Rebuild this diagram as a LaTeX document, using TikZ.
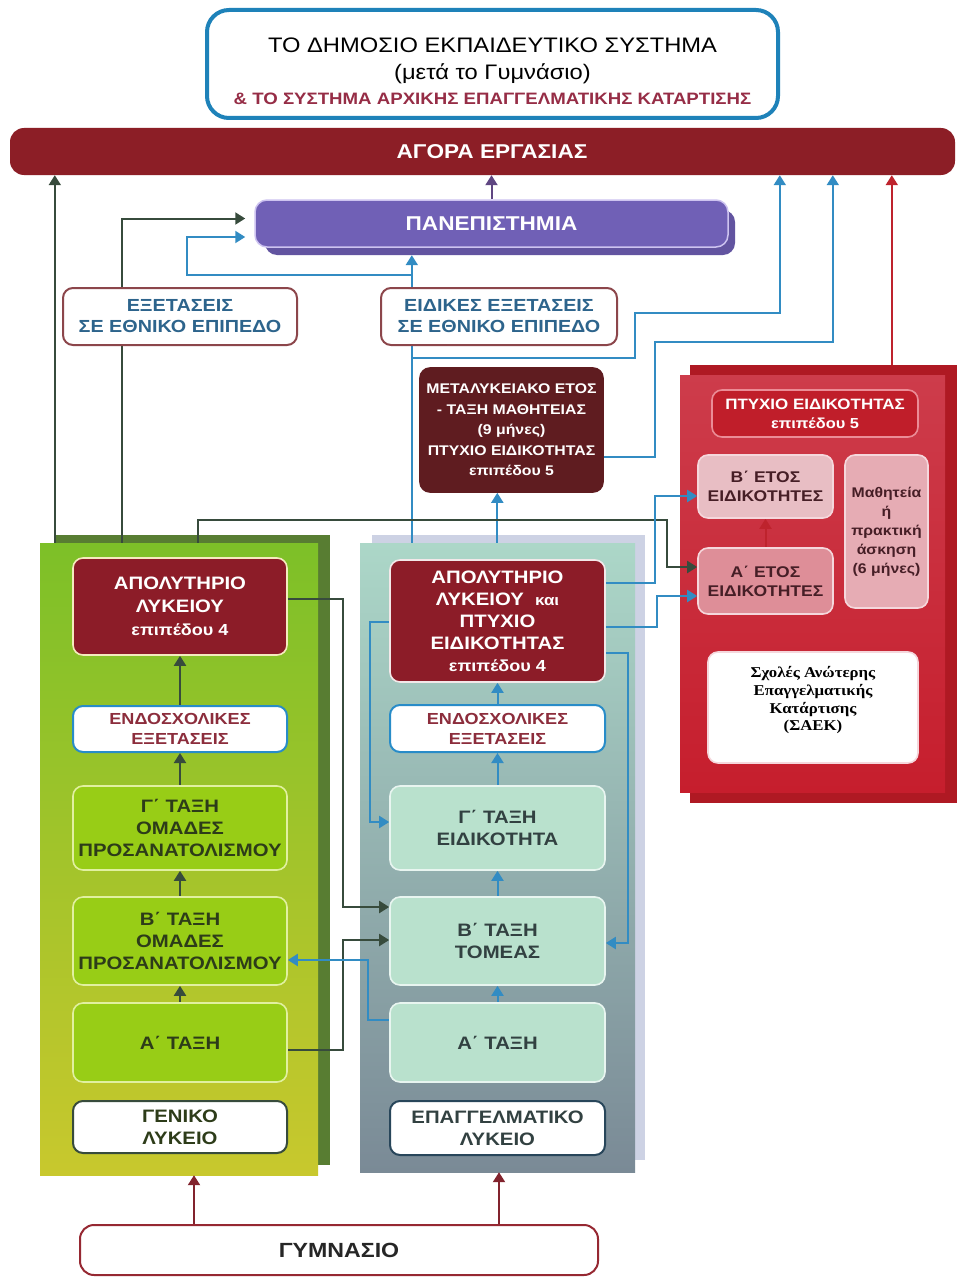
\documentclass[tikz,border=0pt]{standalone}
\usepackage{fontspec}
\setmainfont{Liberation Sans}[FakeStretch=1.13]
\newfontfamily\saekfont{Liberation Serif}[FakeStretch=1.12]
\usetikzlibrary{arrows.meta}
\pgfdeclarelayer{back}
\pgfdeclarelayer{mid}
\pgfsetlayers{back,mid,main}
\newcommand\fsz[2]{\fontsize{#1}{#2}\selectfont}
\definecolor{ctitleb}{RGB}{30,130,185}
\definecolor{ctitle3}{RGB}{150,45,70}
\definecolor{cmarket}{RGB}{140,30,38}
\definecolor{cuni}{RGB}{112,96,182}
\definecolor{cunib}{RGB}{205,195,240}
\definecolor{cunish}{RGB}{98,84,160}
\definecolor{cexamb}{RGB}{140,70,75}
\definecolor{cexamt}{RGB}{45,100,140}
\definecolor{cmeta}{RGB}{95,28,32}
\definecolor{capol}{RGB}{140,28,40}
\definecolor{ccream}{RGB}{245,235,190}
\definecolor{cendob}{RGB}{40,140,200}
\definecolor{cendot}{RGB}{140,45,60}
\definecolor{cgbox}{RGB}{152,205,22}
\definecolor{cgboxb}{RGB}{225,240,160}
\definecolor{cgtext}{RGB}{45,60,25}
\definecolor{cgtop}{RGB}{125,192,40}
\definecolor{cgbot}{RGB}{200,200,45}
\definecolor{cgsh}{RGB}{88,125,50}
\definecolor{cetop}{RGB}{172,215,200}
\definecolor{cebot}{RGB}{122,138,150}
\definecolor{cesh}{RGB}{205,210,228}
\definecolor{cebox}{RGB}{185,225,205}
\definecolor{ceboxb}{RGB}{232,245,240}
\definecolor{cetext}{RGB}{50,65,65}
\definecolor{cepalb}{RGB}{40,70,90}
\definecolor{cstop}{RGB}{205,60,75}
\definecolor{csmid}{RGB}{236,190,196}
\definecolor{csbot}{RGB}{198,30,45}
\definecolor{csback}{RGB}{175,25,35}
\definecolor{cp5}{RGB}{192,30,42}
\definecolor{cp5b}{RGB}{235,140,150}
\definecolor{cbet}{RGB}{232,190,196}
\definecolor{caet}{RGB}{222,142,152}
\definecolor{cmath}{RGB}{230,172,180}
\definecolor{cpinkb}{RGB}{245,215,220}
\definecolor{cstext}{RGB}{70,30,38}
\definecolor{cdark}{RGB}{55,75,60}
\definecolor{cblue}{RGB}{50,140,195}
\definecolor{cpurple}{RGB}{95,70,130}
\definecolor{cred}{RGB}{190,35,45}
\definecolor{credk}{RGB}{130,35,45}
\definecolor{cgymb}{RGB}{150,40,50}
\begin{document}
\begin{tikzpicture}[x=1pt,y=-1pt,
  >={Triangle[width=12pt,length=10pt]},
  box/.style={rounded corners=10pt, line width=1.6pt, inner sep=0pt, align=center},
  gbox/.style={box, fill=cgbox, draw=cgboxb, text=cgtext, minimum width=214pt, font=\bfseries\fsz{18}{22}},
  ebox/.style={box, fill=cebox, draw=ceboxb, text=cetext, minimum width=215pt, font=\bfseries\fsz{18}{22}},
  apolbox/.style={box, fill=capol, draw=ccream, text=white, font=\bfseries\fsz{18}{23}},
  endobox/.style={box, fill=white, draw=cendob, line width=2pt, text=cendot, font=\bfseries\fsz{16}{20}},
  exambox/.style={box, fill=white, draw=cexamb, line width=2pt, text=cexamt, minimum height=57pt, font=\bfseries\fsz{17.5}{21}},
  conn/.style={line width=2pt, ->},
  dk/.style={conn, draw=cdark},
  bl/.style={conn, draw=cblue},
  pu/.style={conn, draw=cpurple},
  rd/.style={conn, draw=cred},
  rdk/.style={conn, draw=credk},
]
\useasboundingbox (0,0) rectangle (959,1279);
\begin{pgfonlayer}{back}
\fill[white] (0,0) rectangle (959,1279);
\fill[cgsh] (55,535) rectangle (330,1165);
\node[inner sep=0pt, minimum width=278pt, minimum height=632pt, top color=cgtop, bottom color=cgbot] (gpanel) at (179,859) {};
\fill[cesh] (372,535) rectangle (645,1160);
\node[inner sep=0pt, minimum width=275pt, minimum height=629pt, top color=cetop, bottom color=cebot] (epanel) at (497.5,857.5) {};
\node[inner sep=0pt, fill=csback, minimum width=267pt, minimum height=438pt] (sback) at (823.5,584) {};
\node[inner sep=0pt, minimum width=265pt, minimum height=417pt, top color=cstop, middle color=csmid, bottom color=csbot] (spanel) at (812.5,583.5) {};
\end{pgfonlayer}

% title and top
\node[draw=ctitleb, line width=4pt, rounded corners=22pt, minimum width=571pt, minimum height=108pt, fill=white] (title) at (492.5,64) {};
\node[align=center, inner sep=0pt, font=\fsz{21}{27}] (titletext) at (492.5,71) {ΤΟ ΔΗΜΟΣΙΟ ΕΚΠΑΙΔΕΥΤΙΚΟ ΣΥΣΤΗΜΑ\\(μετά το Γυμνάσιο)\\[-2pt]{\color{ctitle3}\bfseries\fsz{16.5}{20}\& ΤΟ ΣΥΣΤΗΜΑ ΑΡΧΙΚΗΣ ΕΠΑΓΓΕΛΜΑΤΙΚΗΣ ΚΑΤΑΡΤΙΣΗΣ}};
\node[fill=cmarket, rounded corners=14pt, minimum width=945pt, minimum height=47pt, inner sep=0pt, text=white, font=\bfseries\fsz{20}{22}] (market) at (482.5,151.5) {\hspace*{19pt}ΑΓΟΡΑ ΕΡΓΑΣΙΑΣ};
\node[fill=cunish, rounded corners=12pt, minimum width=470pt, minimum height=45pt, inner sep=0pt] (unishadow) at (500,232.5) {};
\node[fill=cuni, draw=cunib, line width=1.5pt, rounded corners=12pt, minimum width=473pt, minimum height=47pt, inner sep=0pt, text=white, font=\bfseries\fsz{20}{22}] (uni) at (491.5,223.5) {ΠΑΝΕΠΙΣΤΗΜΙΑ};
\node[exambox, minimum width=234pt] (exam1) at (180,316.5) {ΕΞΕΤΑΣΕΙΣ\\ΣΕ ΕΘΝΙΚΟ ΕΠΙΠΕΔΟ};
\node[exambox, minimum width=236pt] (exam2) at (499,316.5) {ΕΙΔΙΚΕΣ ΕΞΕΤΑΣΕΙΣ\\ΣΕ ΕΘΝΙΚΟ ΕΠΙΠΕΔΟ};
\node[box, fill=cmeta, draw=cmeta, text=white, minimum width=183pt, minimum height=124pt, font=\bfseries\fsz{14}{20.5}] (meta) at (511.5,430) {ΜΕΤΑΛΥΚΕΙΑΚΟ ΕΤΟΣ\\- ΤΑΞΗ ΜΑΘΗΤΕΙΑΣ\\(9 μήνες)\\ΠΤΥΧΙΟ ΕΙΔΙΚΟΤΗΤΑΣ\\επιπέδου 5};

% general lyceum
\node[apolbox, minimum width=214pt, minimum height=97pt] (gapol) at (180,606.5) {ΑΠΟΛΥΤΗΡΙΟ\\ΛΥΚΕΙΟΥ\\{\fsz{16}{23}επιπέδου 4}};
\node[endobox, minimum width=214pt, minimum height=46pt] (gendo) at (180,729) {ΕΝΔΟΣΧΟΛΙΚΕΣ\\ΕΞΕΤΑΣΕΙΣ};
\node[gbox, minimum height=84pt] (gc) at (180,828) {Γ΄ ΤΑΞΗ\\ΟΜΑΔΕΣ\\ΠΡΟΣΑΝΑΤΟΛΙΣΜΟΥ};
\node[gbox, minimum height=88pt] (gb) at (180,941) {Β΄ ΤΑΞΗ\\ΟΜΑΔΕΣ\\ΠΡΟΣΑΝΑΤΟΛΙΣΜΟΥ};
\node[gbox, minimum height=79pt] (ga) at (180,1042.5) {Α΄ ΤΑΞΗ};
\node[box, fill=white, draw=cdark, line width=2pt, text=cgtext, minimum width=214pt, minimum height=52pt, font=\bfseries\fsz{18}{22}] (gel) at (180,1127) {ΓΕΝΙΚΟ\\ΛΥΚΕΙΟ};

% vocational lyceum
\node[apolbox, draw=white!90!capol, minimum width=215pt, minimum height=122pt, font=\bfseries\fsz{18}{22}] (eapol) at (497.5,621) {ΑΠΟΛΥΤΗΡΙΟ\\ΛΥΚΕΙΟΥ \ {\fsz{15}{22}και}\\ΠΤΥΧΙΟ\\ΕΙΔΙΚΟΤΗΤΑΣ\\{\fsz{16}{22}επιπέδου 4}};
\node[endobox, minimum width=215pt, minimum height=47pt] (eendo) at (497.5,728.5) {ΕΝΔΟΣΧΟΛΙΚΕΣ\\ΕΞΕΤΑΣΕΙΣ};
\node[ebox, minimum height=84pt] (ec) at (497.5,828) {Γ΄ ΤΑΞΗ\\ΕΙΔΙΚΟΤΗΤΑ};
\node[ebox, minimum height=88pt] (eb) at (497.5,941) {Β΄ ΤΑΞΗ\\ΤΟΜΕΑΣ};
\node[ebox, minimum height=79pt] (ea) at (497.5,1042.5) {Α΄ ΤΑΞΗ};
\node[box, fill=white, draw=cepalb, line width=2pt, text=cetext, minimum width=215pt, minimum height=54pt, font=\bfseries\fsz{18}{22}] (epal) at (497.5,1128) {ΕΠΑΓΓΕΛΜΑΤΙΚΟ\\ΛΥΚΕΙΟ};

% SAEK
\node[box, fill=cp5, draw=cp5b, text=white, minimum width=206pt, minimum height=47pt, font=\bfseries\fsz{15}{19}] (p5) at (815,413.5) {ΠΤΥΧΙΟ ΕΙΔΙΚΟΤΗΤΑΣ\\{\fsz{14.5}{19}επιπέδου 5}};
\node[box, fill=cbet, draw=cpinkb, text=cstext, minimum width=135pt, minimum height=63pt, font=\bfseries\fsz{15.5}{19}] (bet) at (765.5,486.5) {Β΄ ΕΤΟΣ\\ΕΙΔΙΚΟΤΗΤΕΣ};
\node[box, fill=caet, draw=cpinkb, text=cstext, minimum width=135pt, minimum height=66pt, font=\bfseries\fsz{15.5}{19}] (aet) at (765.5,581) {Α΄ ΕΤΟΣ\\ΕΙΔΙΚΟΤΗΤΕΣ};
\node[box, fill=cmath, draw=cpinkb, text=cstext, minimum width=83pt, minimum height=153pt, font=\bfseries\fsz{14}{19}] (math) at (886.5,531.5) {Μαθητεία\\ή\\πρακτική\\άσκηση\\(6 μήνες)};
\node[box, fill=white, draw=cpinkb, text=black, minimum width=210pt, minimum height=111pt, font=\saekfont\bfseries\fsz{15}{17.8}] (saek) at (813,707.5) {Σχολές Ανώτερης\\Επαγγελματικής\\Κατάρτισης\\(ΣΑΕΚ)\\\mbox{}};

% gymnasio
\node[box, fill=white, draw=cgymb, line width=2pt, rounded corners=14pt, minimum width=518pt, minimum height=50pt, text=black!85, font=\bfseries\fsz{20.5}{22}] (gym) at (339,1250) {ΓΥΜΝΑΣΙΟ};

\begin{pgfonlayer}{mid}
\coordinate (g1) at ([xshift=15pt]gpanel.north west);
\coordinate (g2) at ([xshift=82pt]gpanel.north west);
\coordinate (g3) at ([xshift=158pt]gpanel.north west);
\coordinate (e1) at ([xshift=52pt]epanel.north west);
\coordinate (e2) at ([xshift=137.5pt]epanel.north west);
\coordinate (s1) at ([xshift=202pt]sback.north west);
\coordinate (mk1) at ([xshift=770pt]market.south west);
\coordinate (mk2) at ([xshift=823pt]market.south west);
\coordinate (gy1) at ([xshift=115pt]gym.north west);
\coordinate (gy2) at ([xshift=420pt]gym.north west);
% to labour market
\draw[dk] (g1) -- (g1 |- market.south);
\draw[pu] (uni.north) -- (uni.north |- market.south);
\draw[rd] (s1) -- (s1 |- market.south);
\draw[bl] (e1) |- (635,358) -- (635,313) -| (mk1);
\draw[bl] ([yshift=-27pt]meta.east) -| (655,342) -| (mk2);
% to universities
\draw[dk] (g2) |- ([xshift=-9pt,yshift=5pt]uni.west);
\draw[bl] (e1) |- (187,275) |- ([xshift=-9pt,yshift=-13.5pt]uni.west);
\draw[bl] (e1) -- (e1 |- unishadow.south);
\draw[bl] (e2) -- (e2 |- meta.south);
% to SAEK
\draw[dk] (g3) |- (667,520) |- ([yshift=14pt]aet.west);
\draw[bl] ([yshift=38pt]eapol.east) -| (655,496) -- ([yshift=-9.5pt]bet.west);
\draw[bl] ([yshift=-6pt]eapol.east) -| (657,596) -- ([yshift=-15pt]aet.west);
\draw[rd] (aet) -- (bet);
% between lycea
\draw[bl] ([yshift=-32pt]eapol.east) -| (628,943) -- ([yshift=-2pt]eb.east);
\draw[bl] ([yshift=-1pt]eapol.west) -| (370,822) -- ([yshift=6pt]ec.west);
\draw[dk] ([yshift=7.5pt]gapol.east) -| (343,907) -- ([yshift=34pt]eb.west);
\draw[dk] ([yshift=-7.5pt]ga.east) -| (343,940) -- ([yshift=1pt]eb.west);
\draw[bl] ([yshift=22.5pt]ea.west) -| (368,960) -- ([yshift=-19pt]gb.east);
% inside columns
\draw[dk] (gendo) -- (gapol);
\draw[dk] (gc) -- (gendo);
\draw[dk] (gb) -- (gc);
\draw[dk] (ga) -- (gb);
\draw[bl] (eendo) -- (eapol);
\draw[bl] (ec) -- (eendo);
\draw[bl] (eb) -- (ec);
\draw[bl] (ea) -- (eb);
% from gymnasio
\draw[rdk] (gy1) -- (gy1 |- gpanel.south);
\draw[rdk] (gy2) -- (gy2 |- epanel.south);
\end{pgfonlayer}
\end{tikzpicture}
\end{document}
